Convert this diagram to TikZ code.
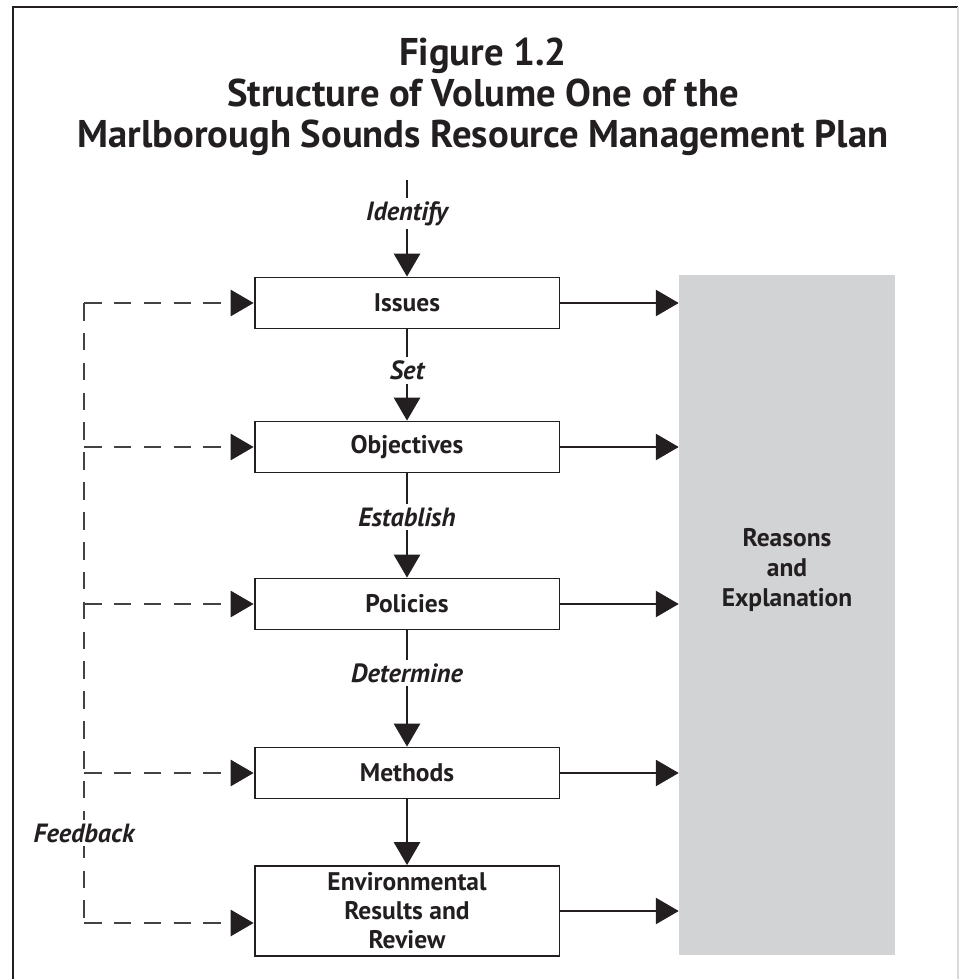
\documentclass[tikz,border=0pt]{standalone}
\usepackage{fontspec}
\setmainfont{PT Sans}
\usetikzlibrary{arrows.meta,positioning}
\definecolor{ink}{RGB}{35,31,32}
\definecolor{panel}{RGB}{210,211,213}

\begin{document}
\begin{tikzpicture}[x=0.02cm,y=-0.02cm,
    stage/.style={draw=ink, line width=1.1pt, minimum width=6.1cm, minimum height=1.02cm,
        inner sep=0pt, align=center, text=ink, font=\bfseries\fontsize{14.5}{16.5}\selectfont},
    verb/.style={fill=white, inner sep=2pt, text=ink, font=\bfseries\itshape\fontsize{15}{16}\selectfont},
    flow/.style={draw=ink, line width=0.6pt, -{Triangle[width=15pt,length=13pt]}},
    loop/.style={draw=ink!85, line width=0.6pt, dash pattern=on 10pt off 7pt},
    back/.style={loop, -{Triangle[width=15pt,length=13pt,color=ink]}}]
    \useasboundingbox (0,0) rectangle (959,979);

    % Frame round the figure
    \draw[ink, line width=1.4pt] (13,995) -- (13,7) -- (958,7);
    \draw[gray!30, line width=0.6pt] (958,7) -- (958,995);

    % Title
    \node[align=center, text=ink, font=\bfseries\fontsize{22}{23.3}\selectfont] (Title) at (483,97)
        {Figure 1.2\\Structure of Volume One of the\\Marlborough Sounds Resource Management Plan};

    % Grey panel on the right
    \node[fill=panel, minimum width=4.32cm, minimum height=13.6cm, inner sep=0pt] (Reasons) at (787,615) {};
    \node[align=center, text=ink, font=\bfseries\fontsize{14.5}{16.8}\selectfont] (ReasonsText) at (787,570)
        {Reasons\\and\\Explanation};

    % The five stages
    \node[stage] (Issues) at (407,303) {Issues};
    \node[stage] (Objectives) at (407,447) {Objectives};
    \node[stage] (Policies) at (407,604) {Policies};
    \node[stage] (Methods) at (407,773) {Methods};
    \node[stage, minimum height=1.8cm] (Results) at (407,911) {Environmental\\Results and\\Review};

    % Downward flow
    \coordinate (Start) at (407,180);
    \draw[flow] (Start) -- node[verb, pos=0.35] {Identify} (Issues);
    \draw[flow] (Issues) -- node[verb, pos=0.45] {Set} (Objectives);
    \draw[flow] (Objectives) -- node[verb, pos=0.42] {Establish} (Policies);
    \draw[flow] (Policies) -- node[verb, pos=0.37] {Determine} (Methods);
    \draw[flow] (Methods) -- (Results);

    % Arrows into the panel
    \foreach \n in {Issues, Objectives, Policies, Methods, Results}
        \draw[flow] (\n.east) -- (\n.east -| Reasons.west);

    % Feedback loop
    \coordinate (FbTop) at (84,303);
    \coordinate (FbBottom) at (84,923);
    \draw[loop] (FbTop) -- node[verb, pos=0.855] {Feedback} (FbBottom);
    \draw[back] (FbTop) -- (Issues.west);
    \foreach \n in {Objectives, Policies, Methods}
        \draw[back] (\n.west -| FbTop) -- (\n.west);
    \draw[back] (FbBottom) -- (FbBottom -| Results.west);
\end{tikzpicture}
\end{document}
